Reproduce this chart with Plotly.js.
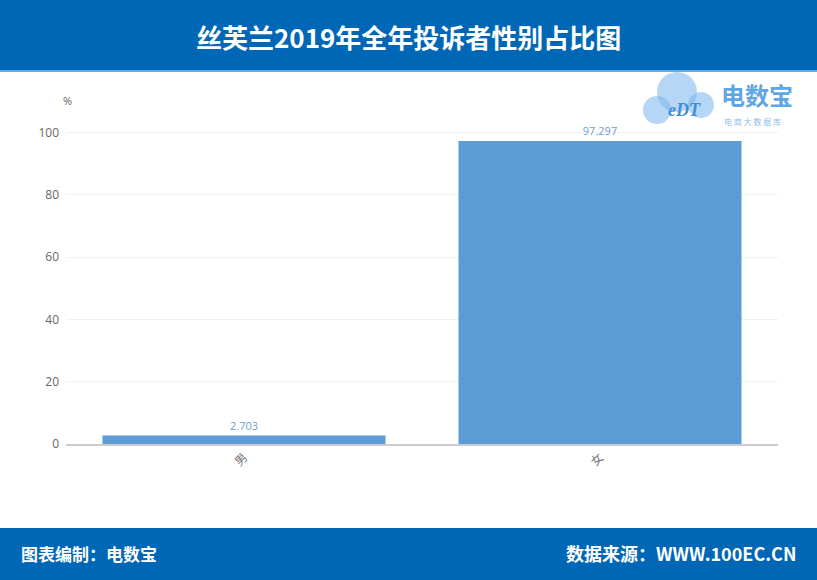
<!DOCTYPE html>
<html><head><meta charset="utf-8">
<script src="https://cdn.plot.ly/plotly-3.0.1.min.js"></script>
<style>html,body{margin:0;padding:0;background:#fff}#c{width:817px;height:580px}</style>
</head><body><div id="c"></div>
<script>
const categories = ["男", "女"];
const values = [2.703, 97.297];
const labels = ["2.703", "97.297"];
const yTicks = [0, 20, 40, 60, 80, 100];

const L = 66, R = 39, T = 120, B = 136, W = 817, H = 580;
const pw = W - L - R, ph = H - T - B;
const px = v => (v - L) / pw;
const py = v => (H - B - v) / ph;
const cjk = '"Noto Sans CJK SC", "Noto Sans", sans-serif';

const trace = {
  type: 'bar', x: categories, y: values, text: labels,
  textposition: 'outside', cliponaxis: false,
  textfont: {family: '"Open Sans", "Noto Sans", sans-serif', size: 11, color: '#6c9fd2'},
  marker: {color: '#5b9bd6'}, width: 0.795, hoverinfo: 'none'
};

const layout = {
  width: W, height: H, margin: {l: L, r: R, t: T, b: B},
  paper_bgcolor: '#ffffff', plot_bgcolor: '#ffffff', showlegend: false,
  font: {family: cjk},
  xaxis: {type: 'category', tickangle: -45, showgrid: false, showline: true,
    linecolor: '#cccccc', linewidth: 1.5, ticks: '', tickfont: {size: 12, color: '#777777', family: cjk}, automargin: false},
  yaxis: {range: [0, 104], tickvals: yTicks, showgrid: true, gridcolor: '#f0f0f0', zeroline: false,
    showline: false, ticks: '', ticklabelstandoff: 6,
    tickfont: {size: 12, color: '#666666', family: '"Open Sans", sans-serif'}, automargin: false},
  shapes: [
    {type: 'rect', xref: 'paper', yref: 'paper', x0: px(0), x1: px(W), y0: py(0), y1: py(70), fillcolor: '#0067b6', line: {width: 0}, layer: 'below'},
    {type: 'rect', xref: 'paper', yref: 'paper', x0: px(0), x1: px(W), y0: py(70), y1: py(72), fillcolor: '#6aaee6', line: {width: 0}, layer: 'below'},
    {type: 'rect', xref: 'paper', yref: 'paper', x0: px(0), x1: px(W), y0: py(528), y1: py(580), fillcolor: '#0067b6', line: {width: 0}, layer: 'below'},
    {type: 'circle', xref: 'paper', yref: 'paper', x0: px(643), x1: px(671), y0: py(96), y1: py(124), fillcolor: 'rgba(120,180,235,0.55)', line: {width: 0}},
    {type: 'circle', xref: 'paper', yref: 'paper', x0: px(657), x1: px(697), y0: py(72), y1: py(112), fillcolor: 'rgba(120,180,235,0.55)', line: {width: 0}},
    {type: 'circle', xref: 'paper', yref: 'paper', x0: px(688), x1: px(714), y0: py(92), y1: py(118), fillcolor: 'rgba(120,180,235,0.55)', line: {width: 0}}
  ],
  annotations: [
    {xref: 'paper', yref: 'paper', x: px(408), y: py(37), text: '<b>丝芙兰2019年全年投诉者性别占比图</b>', showarrow: false,
      font: {family: cjk, size: 26, color: '#ffffff'}, xanchor: 'center', yanchor: 'middle'},
    {xref: 'paper', yref: 'paper', x: px(19), y: py(553), text: '<b>图表编制：电数宝</b>', showarrow: false,
      font: {family: cjk, size: 17, color: '#ffffff'}, xanchor: 'left', yanchor: 'middle'},
    {xref: 'paper', yref: 'paper', x: px(798), y: py(553), text: '<b>数据来源：WWW.100EC.CN</b>', showarrow: false,
      font: {family: cjk, size: 18, color: '#ffffff'}, xanchor: 'right', yanchor: 'middle'},
    {xref: 'paper', yref: 'paper', x: px(67), y: py(101), text: '%', showarrow: false,
      font: {family: '"Open Sans", sans-serif', size: 11, color: '#666666'}, xanchor: 'center', yanchor: 'middle'},
    {xref: 'paper', yref: 'paper', x: px(684), y: py(110), text: '<b><i>eDT</i></b>', showarrow: false,
      font: {family: 'Liberation Serif, serif', size: 18, color: '#3d8fd9'}, xanchor: 'center', yanchor: 'middle'},
    {xref: 'paper', yref: 'paper', x: px(719), y: py(94), text: '<b>电数宝</b>', showarrow: false,
      font: {family: cjk, size: 24, color: '#5ea6e6'}, xanchor: 'left', yanchor: 'middle'},
    {xref: 'paper', yref: 'paper', x: px(722), y: py(121), text: '电 商 大 数 据 库', showarrow: false,
      font: {family: cjk, size: 8, color: '#8fc0ec'}, xanchor: 'left', yanchor: 'middle'}
  ]
};

Plotly.newPlot('c', [trace], layout, {staticPlot: true, displayModeBar: false});
</script></body></html>
